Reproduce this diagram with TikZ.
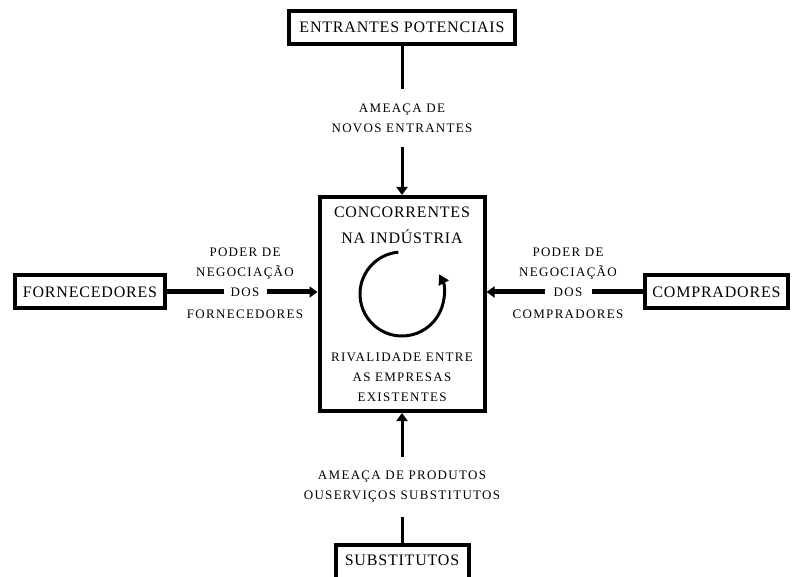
\documentclass[tikz,border=0pt]{standalone}
\usepackage{fontspec}
\setmainfont{Liberation Serif}
\newfontfamily\caixafont[LetterSpace=5]{Liberation Serif}
\newfontfamily\rotulofont[LetterSpace=10]{Liberation Serif}
\usetikzlibrary{arrows.meta,positioning}
\tikzset{
  forca/.style={draw, line width=4pt, inner sep=0pt, minimum height=33pt, font=\caixafont\fontsize{16}{26}\selectfont},
  rotulo/.style={align=center, inner sep=0pt, font=\rotulofont\fontsize{13}{20}\selectfont},
  vseta/.style={line width=3pt},
  hseta/.style={line width=5pt},
  ponta/.style={-{Triangle[length=8pt,width=11pt]}},
}
\begin{document}
\begin{tikzpicture}[x=1pt, y=1pt]
\useasboundingbox (0,0) rectangle (792,576);
% as cinco forcas
\node[forca, minimum width=226pt] (entrantes) at (402,548.5) {ENTRANTES POTENCIAIS};
\node[forca, minimum width=165pt, minimum height=214pt] (industria) at (402,272) {};
\node[forca, minimum width=150pt] (fornec) at (90,284) {FORNECEDORES};
\node[forca, minimum width=143pt] (compr) at (716.5,284) {COMPRADORES};
\node[forca, minimum width=133pt, minimum height=36pt, text depth=6pt] (subst) at (402,13) {SUBSTITUTOS};

% dentro da industria
\node[align=center, font=\caixafont\fontsize{16}{26}\selectfont] (titulo) at (402,351) {CONCORRENTES\\NA INDÚSTRIA};
\node[rotulo] (rivalidade) at (402,199) {RIVALIDADE ENTRE\\AS EMPRESAS\\EXISTENTES};
\draw[line width=3pt, -{Triangle[length=10pt,width=11pt]}] (402,282) ++(95:42) arc[start angle=95, end angle=388, radius=42];

% rotulos das setas
\node[rotulo, inner ysep=14pt] (ameacaN) at (402,458) {AMEAÇA DE\\NOVOS ENTRANTES};
\node[rotulo, inner ysep=14pt] (ameacaS) at (402,89) {AMEAÇA DE PRODUTOS\\OUSERVIÇOS SUBSTITUTOS};
\node[rotulo, inner xsep=7pt, inner ysep=4pt] (dosF) at (245,284) {DOS};
\node[rotulo, above=4pt of dosF] (poderF) {PODER DE\\NEGOCIAÇÃO};
\node[rotulo, below=9pt of dosF] (quemF) {FORNECEDORES};
\node[rotulo, inner xsep=9pt, inner ysep=4pt] (dosC) at (568,284) {DOS};
\node[rotulo, above=4pt of dosC] (poderC) {PODER DE\\NEGOCIAÇÃO};
\node[rotulo, below=9pt of dosC] (quemC) {COMPRADORES};

% setas
\draw[vseta] (entrantes) -- (ameacaN);
\draw[vseta, ponta] (ameacaN) -- (industria);
\draw[vseta] (subst) -- (ameacaS);
\draw[vseta, ponta] (ameacaS) -- (industria);
\draw[hseta] (fornec) -- (dosF);
\draw[hseta, ponta] (dosF) -- (dosF -| industria.west);
\draw[hseta] (compr) -- (dosC);
\draw[hseta, ponta] (dosC) -- (dosC -| industria.east);

\end{tikzpicture}
\end{document}
